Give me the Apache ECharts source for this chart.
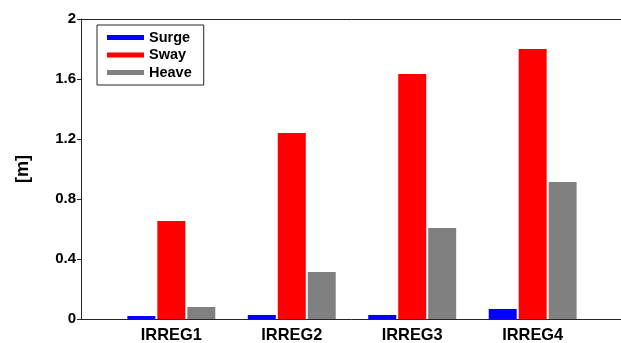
<!DOCTYPE html>
<html>
<head>
<meta charset="utf-8">
<script src="https://cdn.jsdelivr.net/npm/echarts@6/dist/echarts.min.js"></script>
<style>
  html, body { margin: 0; padding: 0; background: #fff; }
  #chart { width: 621px; height: 343px; }
</style>
</head>
<body>
<div id="chart"></div>
<script>
// Wave cases and the motion amplitudes for each
const categories = ['IRREG1', 'IRREG2', 'IRREG3', 'IRREG4'];
const surge = [0.02, 0.027, 0.027, 0.067];
const sway = [0.653, 1.24, 1.633, 1.80];
const heave = [0.08, 0.313, 0.607, 0.913];
const yTicks = [0, 0.4, 0.8, 1.2, 1.6, 2];

const FONT = 'Liberation Sans';
const INK = '#262626';

// Cases sit at positions 1..4 on a numeric x scale
const toPoints = vals => vals.map((v, i) => [i + 1, v]);

const barCommon = {
  type: 'bar',
  xAxisIndex: 0,
  barWidth: 28,
  barGap: '7%',
  animation: false
};

const chart = echarts.init(document.getElementById('chart'), null, { renderer: 'canvas' });
chart.setOption({
  backgroundColor: '#fff',
  animation: false,
  grid: {
    left: 81,
    top: 19,
    width: 542,
    height: 300,
    containLabel: false,
    outerBoundsMode: 'none',
    show: false
  },
  legend: {
    orient: 'vertical',
    left: 97,
    top: 25,
    padding: [5, 12, 5, 10],
    itemGap: 2.5,
    itemWidth: 37,
    itemHeight: 5,
    itemTextGap: 4,
    icon: 'rect',
    backgroundColor: '#fff',
    borderColor: INK,
    borderWidth: 1,
    textStyle: { fontFamily: FONT, fontWeight: 'bold', fontSize: 14.5, lineHeight: 15, color: '#000' },
    data: ['Surge', 'Sway', 'Heave']
  },
  xAxis: [
    {
      type: 'value',
      position: 'bottom',
      min: 0.25,
      max: 4.75,
      interval: 0.25,
      splitLine: { show: false },
      axisTick: { show: false },
      axisLine: { show: true, lineStyle: { color: INK, width: 1 } },
      axisLabel: {
        margin: 8,
        fontFamily: FONT,
        fontWeight: 'bold',
        fontSize: 16.4,
        color: '#000',
        showMinLabel: true,
        showMaxLabel: true,
        formatter: v => {
          const i = Math.round(v);
          return Math.abs(v - i) < 1e-9 && i >= 1 && i <= categories.length ? categories[i - 1] : '';
        }
      }
    },
    {
      // top edge of the axes box
      type: 'value',
      position: 'top',
      min: 0.25,
      max: 4.75,
      interval: 0.25,
      splitLine: { show: false },
      axisTick: { show: false },
      axisLabel: { show: false },
      axisLine: { show: true, lineStyle: { color: INK, width: 1 } }
    }
  ],
  yAxis: {
    type: 'value',
    min: yTicks[0],
    max: yTicks[yTicks.length - 1],
    interval: 0.4,
    name: '[m]',
    nameLocation: 'middle',
    nameGap: 49,
    nameTextStyle: { fontFamily: FONT, fontWeight: 'bold', fontSize: 18, color: '#000' },
    splitLine: { show: false },
    axisLine: { show: true, lineStyle: { color: INK, width: 1 } },
    axisTick: { show: true, inside: false, length: 4, lineStyle: { color: INK } },
    axisLabel: {
      margin: 5,
      fontFamily: FONT,
      fontWeight: 'bold',
      fontSize: 15,
      color: '#000',
      formatter: v => String(+v.toFixed(1))
    }
  },
  series: [
    Object.assign({ name: 'Surge', itemStyle: { color: '#0000ff' }, data: toPoints(surge) }, barCommon),
    Object.assign({ name: 'Sway', itemStyle: { color: '#ff0000' }, data: toPoints(sway) }, barCommon),
    Object.assign({ name: 'Heave', itemStyle: { color: '#808080' }, data: toPoints(heave) }, barCommon)
  ]
});
</script>
</body>
</html>
